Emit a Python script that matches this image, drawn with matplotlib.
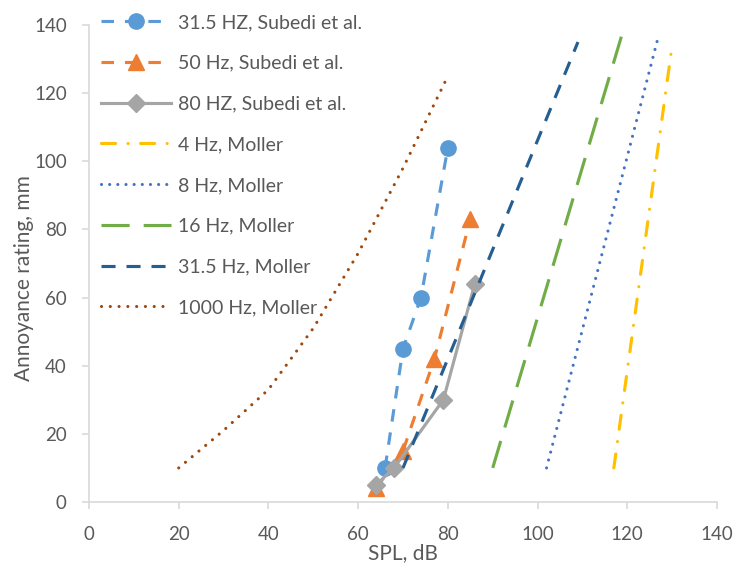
import numpy as np
import matplotlib
matplotlib.use("Agg")
import matplotlib.pyplot as plt

plt.rcParams['font.family'] = ['Lato', 'DejaVu Sans']

# Subedi et al. measured points (SPL dB, annoyance mm)
subedi_315_spl = [66, 70, 74, 80]
subedi_315_ann = [10, 45, 60, 104]
subedi_50_spl = [64, 70, 77, 85]
subedi_50_ann = [4, 15, 42, 83]
subedi_80_spl = [64, 68, 79, 86]
subedi_80_ann = [5, 10, 30, 64]

# Moller curves
moller_4_spl = [117, 130]
moller_4_ann = [10, 134]
moller_8_spl = [102, 127]
moller_8_ann = [10, 137]
moller_16_spl = [90, 119]
moller_16_ann = [10, 138]
moller_315_spl = [70, 109]
moller_315_ann = [10, 135]
moller_1000_spl = [20, 30, 40, 50, 60, 70, 80]
moller_1000_ann = [10, 21, 33, 51, 73, 98, 125]

text_col = '#595959'
axis_col = '#d9d9d9'
lw = 2.25

fig = plt.figure(figsize=(7.36, 5.68), dpi=100)
ax = fig.add_axes([89 / 736, 1 - 502 / 568, (717 - 89) / 736, (502 - 25) / 568])

ax.plot(subedi_315_spl, subedi_315_ann, color='#5B9BD5', lw=lw, dashes=(4, 3.5),
        marker='o', ms=11, label='31.5 HZ, Subedi et al.')
ax.plot(subedi_50_spl, subedi_50_ann, color='#ED7D31', lw=lw, dashes=(4, 3.5),
        marker='^', ms=12, label='50 Hz, Subedi et al.')
ax.plot(subedi_80_spl, subedi_80_ann, color='#A5A5A5', lw=lw,
        marker='D', ms=9, label='80 HZ, Subedi et al.')
ax.plot(moller_4_spl, moller_4_ann, color='#FFC000', lw=lw,
        dashes=(4.5, 4, 0.01, 4), dash_capstyle='round', label='4 Hz, Moller')
ax.plot(moller_8_spl, moller_8_ann, color='#4472C4', lw=lw,
        dashes=(0.01, 2.6), dash_capstyle='round', label='8 Hz, Moller')
ax.plot(moller_16_spl, moller_16_ann, color='#70AD47', lw=lw,
        dashes=(9, 4.5), label='16 Hz, Moller')
ax.plot(moller_315_spl, moller_315_ann, color='#255E91', lw=lw,
        dashes=(4.5, 3.5), label='31.5 Hz, Moller')
ax.plot(moller_1000_spl, moller_1000_ann, color='#9E480E', lw=lw,
        dashes=(0.01, 2.8), dash_capstyle='round', label='1000 Hz, Moller')

ax.set_xlim(0, 140)
ax.set_ylim(0, 140)
ax.set_xticks(np.arange(0, 141, 20))
ax.set_yticks(np.arange(0, 141, 20))

for side in ['top', 'right']:
    ax.spines[side].set_visible(False)
for side in ['left', 'bottom']:
    ax.spines[side].set_color(axis_col)
    ax.spines[side].set_linewidth(1.2)
ax.tick_params(colors=text_col, labelsize=13.5, length=5, width=1.2, color=axis_col)
ax.tick_params(axis='x', pad=12)
ax.tick_params(axis='y', pad=11)

ax.set_xlabel('SPL, dB', fontsize=15, color=text_col, labelpad=0)
ax.set_ylabel('Annoyance rating, mm', fontsize=15, color=text_col)
ax.yaxis.set_label_coords(-0.088, 0.47)

ax.legend(loc='upper left', bbox_to_anchor=(101 / 736, 1 - 14 / 568),
          bbox_transform=fig.transFigure, frameon=False, fontsize=14,
          labelcolor=text_col, handlelength=3.6, handletextpad=0.35,
          labelspacing=1.22, borderpad=0, borderaxespad=0, numpoints=1)

fig.savefig('out.png', dpi=100)
